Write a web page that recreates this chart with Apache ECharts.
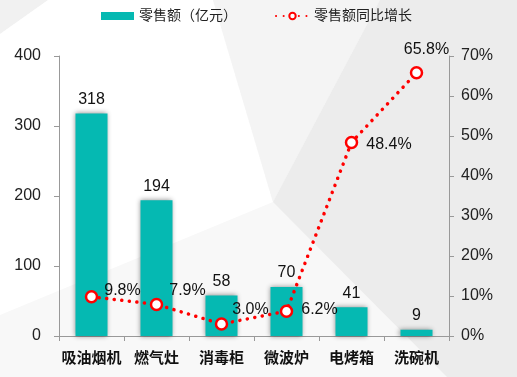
<!DOCTYPE html>
<html>
<head>
<meta charset="utf-8">
<script src="https://cdn.jsdelivr.net/npm/echarts@6/dist/echarts.min.js"></script>
<style>
  html, body { margin: 0; padding: 0; }
  #main { width: 517px; height: 377px; }
</style>
</head>
<body>
<div id="main"></div>
<script>
const categories = ['吸油烟机', '燃气灶', '消毒柜', '微波炉', '电烤箱', '洗碗机'];
const salesValues = [318, 194, 58, 70, 41, 9];
const growthValues = [9.8, 7.9, 3.0, 6.2, 48.4, 65.8];
const seriesNames = ['零售额（亿元）', '零售额同比增长'];

const font = '"Liberation Sans", Arial, "Noto Sans CJK SC", sans-serif';
const chart = echarts.init(document.getElementById('main'));

// label placement for the growth points
const growthLabel = [
  { position: 'right', offset: [0, -6] },
  { position: 'right', offset: [0, -14] },
  { position: 'right', offset: [-2, -14] },
  { position: 'right', offset: [2, -2] },
  { position: 'right', offset: [2, 2] },
  { position: 'top', offset: [10, -2] }
];

const option = {
  animation: false,
  backgroundColor: '#ffffff',
  graphic: [
    { type: 'polygon', z: -10, silent: true, shape: { points: [[0, 0], [517, 0], [517, 377], [0, 377]] }, style: { fill: '#f8f8f8' } },
    { type: 'polygon', z: -9, silent: true, shape: { points: [[0, 0], [48, 0], [0, 34]] }, style: { fill: '#f1f1f1' } },
    { type: 'polygon', z: -9, silent: true, shape: { points: [[48, 0], [213, 0], [273, 202], [0, 315], [0, 34]] }, style: { fill: '#ffffff' } },
    { type: 'polygon', z: -9, silent: true, shape: { points: [[213, 0], [380, 0], [273, 202]] }, style: { fill: '#f4f4f4' } },
    { type: 'polygon', z: -9, silent: true, shape: { points: [[380, 0], [517, 0], [517, 377], [447, 377], [273, 202]] }, style: { fill: '#ececec' } }
  ],
  legend: {
    top: 4,
    left: 96,
    itemGap: 38,
    itemWidth: 33,
    itemHeight: 8,
    textStyle: { fontFamily: font, fontSize: 14, color: '#222' },
    data: [
      { name: seriesNames[0], icon: 'rect' },
      { name: seriesNames[1] }
    ]
  },
  grid: { left: 59, right: 68, top: 56, bottom: 41 },
  xAxis: {
    type: 'category',
    data: categories,
    axisLine: { lineStyle: { color: '#999', width: 1 } },
    axisTick: { show: true, length: 5, lineStyle: { color: '#999' } },
    axisLabel: { interval: 0, color: '#111', fontFamily: font, fontSize: 15, fontWeight: 'bold', margin: 15 }
  },
  yAxis: [
    {
      type: 'value', min: 0, max: 400, interval: 100,
      splitLine: { show: false },
      axisLine: { show: true, lineStyle: { color: '#999' } },
      axisTick: { show: true, length: 5, lineStyle: { color: '#999' } },
      axisLabel: { color: '#222', fontFamily: font, fontSize: 16, margin: 18 }
    },
    {
      type: 'value', min: 0, max: 70, interval: 10,
      splitLine: { show: false },
      axisLine: { show: true, lineStyle: { color: '#999' } },
      axisTick: { show: true, length: 5, lineStyle: { color: '#999' } },
      axisLabel: { color: '#222', fontFamily: font, fontSize: 16, margin: 12, formatter: '{value}%' }
    }
  ],
  series: [
    {
      name: seriesNames[0],
      type: 'bar',
      data: salesValues,
      barWidth: 32,
      itemStyle: {
        color: '#05b9b2',
        shadowBlur: 5,
        shadowColor: 'rgba(0,0,0,0.45)',
        shadowOffsetX: -1,
        shadowOffsetY: 0
      },
      label: { show: true, position: 'top', distance: 6, color: '#111', fontFamily: font, fontSize: 16 }
    },
    {
      name: seriesNames[1],
      type: 'line',
      yAxisIndex: 1,
      data: growthValues.map((v, i) => ({ value: v, label: growthLabel[i] })),
      symbol: 'circle',
      symbolSize: 11,
      itemStyle: { color: '#ffffff', borderColor: '#ff0000', borderWidth: 2.5 },
      lineStyle: { color: '#ff0000', width: 3.5, type: [0.1, 7.5], cap: 'round' },
      label: {
        show: true,
        color: '#111',
        fontFamily: font,
        fontSize: 16,
        distance: 6,
        formatter: p => p.value.toFixed(1) + '%'
      },
      z: 5
    }
  ]
};

chart.setOption(option);
</script>
</body>
</html>
